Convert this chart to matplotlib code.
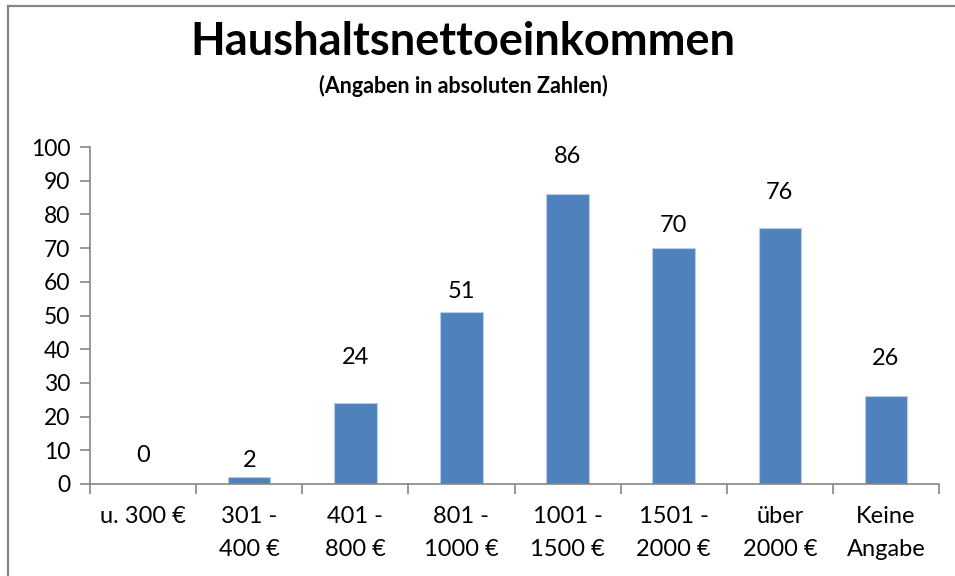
import matplotlib
matplotlib.use("Agg")
import matplotlib.pyplot as plt
from matplotlib.lines import Line2D

categories = ["u. 300 €", "301 -\n400 €", "401 -\n800 €", "801 -\n1000 €",
              "1001 -\n1500 €", "1501 -\n2000 €", "über\n2000 €", "Keine\nAngabe"]
values = [0, 2, 24, 51, 86, 70, 76, 26]
label_y = [8.6, 7.1, 37.4, 57.0, 97.3, 76.6, 86.4, 37.1]
yticks = list(range(0, 101, 10))

plt.rcParams['font.family'] = ['Lato', 'DejaVu Sans']

fig = plt.figure(figsize=(9.55, 5.76), dpi=100)
ax = fig.add_axes([90/955, 92/576, 849/955, 337/576])

x = list(range(len(categories)))
ax.bar(x, values, width=0.4, color="#4F81BD", edgecolor="#B9CDE5", linewidth=0.8)
for xi, v, ly in zip(x, values, label_y):
    ax.text(xi, ly, str(v), ha="center", va="center", fontsize=17)

ax.set_xlim(-0.5, len(categories) - 0.5)
ax.set_ylim(0, 100)
ax.set_yticks(yticks)
ax.set_yticklabels([str(t) for t in yticks], fontsize=16.5)
ax.set_xticks(x)
ax.set_xticklabels(categories, fontsize=17, linespacing=1.72)
ax.tick_params(axis="x", length=0, pad=16)
ax.set_xticks([i - 0.5 for i in range(len(categories) + 1)], minor=True)
ax.tick_params(axis="x", which="minor", length=7, width=1.2, color="#868686", direction="out")
ax.tick_params(axis="y", length=7, width=1.2, color="#868686", direction="out", pad=7)
for s in ["top", "right"]:
    ax.spines[s].set_visible(False)
for s in ["left", "bottom"]:
    ax.spines[s].set_color("#868686")
    ax.spines[s].set_linewidth(1.2)

fig.text(463/955, 1 - 42/576, "Haushaltsnettoeinkommen", ha="center", va="center",
         fontsize=32.5, fontweight="bold")
fig.text(463/955, 1 - 86/576, "(Angaben in absoluten Zahlen)", ha="center", va="center",
         fontsize=15.5, fontweight="bold")

H = 576
W = 955
fig.add_artist(Line2D([8/W, 8/W], [0, 1 - 6/H], transform=fig.transFigure,
                      color="#868686", linewidth=1.6))
fig.add_artist(Line2D([8/W, 1], [1 - 6/H, 1 - 6/H], transform=fig.transFigure,
                      color="#868686", linewidth=1.6))

fig.savefig("out.png", dpi=100)
